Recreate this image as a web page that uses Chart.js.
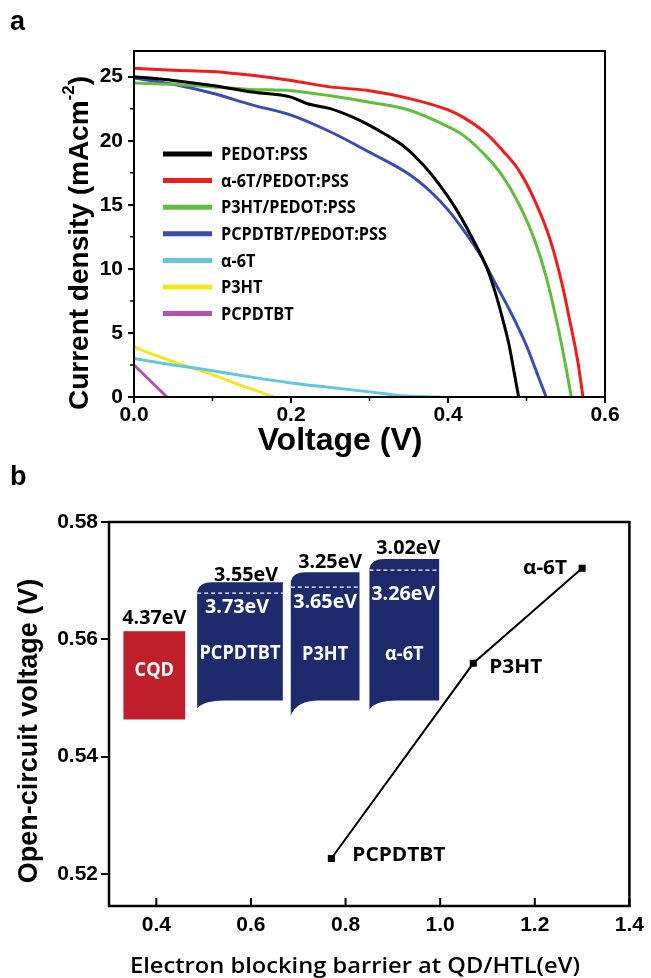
<!DOCTYPE html>
<html>
<head>
<meta charset="utf-8">
<script src="https://cdn.jsdelivr.net/npm/chart.js@4.4.1/dist/chart.umd.min.js"></script>
<style>
  html, body { margin: 0; padding: 0; background: #fff; }
  #wrap { position: relative; width: 651px; height: 978px; overflow: hidden; }
  .panel { position: absolute; left: 0; width: 651px; }
  #boxA { top: 0; height: 470px; }
  #boxB { top: 455px; height: 523px; }
</style>
</head>
<body>
<div id="wrap">
  <div class="panel" id="boxA"><canvas id="chartA"></canvas></div>
  <div class="panel" id="boxB"><canvas id="chartB"></canvas></div>
</div>
<script>
// ---------- panel a : J-V curves ----------
const seriesNames = ['PEDOT:PSS', 'α-6T/PEDOT:PSS', 'P3HT/PEDOT:PSS', 'PCPDTBT/PEDOT:PSS', 'α-6T', 'P3HT', 'PCPDTBT'];

const vPedot = [0, 0.05, 0.1, 0.15, 0.2, 0.22, 0.25, 0.28, 0.3, 0.32, 0.345, 0.37, 0.39, 0.41, 0.43, 0.45, 0.46, 0.47, 0.478, 0.484, 0.49];
const jPedot = [25.0, 24.7, 24.3, 23.8, 23.4, 22.9, 22.5, 21.8, 21.2, 20.5, 19.5, 18.0, 16.5, 14.7, 12.5, 10.0, 8.2, 6.0, 4.0, 2.0, 0];

const vA6tPedot = [0, 0.05, 0.1, 0.15, 0.2, 0.25, 0.3, 0.35, 0.4, 0.42, 0.45, 0.47, 0.49, 0.51, 0.53, 0.545, 0.555, 0.565, 0.572];
const jA6tPedot = [25.65, 25.5, 25.4, 25.1, 24.7, 24.2, 23.9, 23.3, 22.4, 21.8, 20.5, 19.2, 17.7, 15.4, 12.3, 8.9, 6.0, 2.9, 0];

const vP3htPedot = [0, 0.05, 0.1, 0.15, 0.2, 0.25, 0.3, 0.35, 0.4, 0.42, 0.45, 0.47, 0.49, 0.51, 0.525, 0.54, 0.55, 0.557];
const jP3htPedot = [24.5, 24.4, 24.2, 24.0, 23.9, 23.5, 23.0, 22.4, 21.1, 20.4, 18.7, 17.2, 15.1, 12.3, 9.4, 5.5, 2.4, 0];

const vPcpPedot = [0, 0.05, 0.1, 0.15, 0.2, 0.25, 0.3, 0.35, 0.38, 0.4, 0.42, 0.44, 0.46, 0.48, 0.5, 0.515, 0.525];
const jPcpPedot = [24.9, 24.4, 23.7, 22.8, 22.0, 20.7, 19.1, 17.4, 15.9, 14.6, 13.0, 11.2, 8.9, 6.6, 4.0, 1.6, 0];

const vA6t = [0, 0.05, 0.1, 0.15, 0.2, 0.25, 0.3, 0.34, 0.39];
const jA6t = [3.0, 2.5, 2.05, 1.55, 1.1, 0.75, 0.4, 0.1, 0];

const vP3ht = [0, 0.03, 0.06, 0.1, 0.13, 0.16, 0.178];
const jP3ht = [3.9, 3.2, 2.55, 1.75, 1.05, 0.4, 0];

const vPcp = [0, 0.042];
const jPcp = [2.5, 0];

const xTicksA = [0, 0.2, 0.4, 0.6];
const xMinorA = [0.1, 0.3, 0.5];
const yTicksA = [0, 5, 10, 15, 20, 25];
const yMinorA = [2.5, 7.5, 12.5, 17.5, 22.5];

const colorsA = ['#000000', '#f21b1b', '#62bd3e', '#3a4cb0', '#62c6dc', '#f3e61e', '#b650ac'];

// ---------- panel b : Voc vs barrier ----------
const hostNames = ['PCPDTBT', 'P3HT', 'α-6T'];
const barrier = [0.77, 1.07, 1.30];
const voc = [0.5226, 0.5559, 0.5721];
const xTicksB = [0.4, 0.6, 0.8, 1.0, 1.2, 1.4];
const yTicksB = [0.52, 0.54, 0.56, 0.58];

// energy level inset
const bandNames = ['CQD', 'PCPDTBT', 'P3HT', 'α-6T'];
const lumoText = ['4.37eV', '3.55eV', '3.25eV', '3.02eV'];
const homoText = ['', '3.73eV', '3.65eV', '3.26eV'];

// inset geometry in axis units (x: eV axis, y: V axis)
const bandGeom = [
  { x0: 0.3305, x1: 0.4611, top: 0.56137, dash: null, bR: 0.54632, bL: 0.54632, lumoY: 0.56359, homoY: null, nameY: 0.5547, lumoDx: 0, homoDx: 0 },
  { x0: 0.4863, x1: 0.6674, top: 0.56974, dash: 0.56786, bR: 0.54957, bL: 0.5482, lumoY: 0.57094, homoY: 0.56547, nameY: 0.55761, lumoDx: 6, homoDx: -3 },
  { x0: 0.6842, x1: 0.8295, top: 0.57145, dash: 0.56889, bR: 0.54957, bL: 0.54701, lumoY: 0.57316, homoY: 0.56632, nameY: 0.55744, lumoDx: 5, homoDx: 0 },
  { x0: 0.8505, x1: 0.9979, top: 0.57368, dash: 0.5718, bR: 0.54957, bL: 0.54803, lumoY: 0.57538, homoY: 0.56769, nameY: 0.55744, lumoDx: 4, homoDx: -1 }
];
const bandColors = ['#be1f2b', '#1d2a6c', '#1d2a6c', '#1d2a6c'];
// label offsets from each point, px
const pointLabelOffset = [[21, -3, 'left'], [16, 4, 'left'], [-15, 0, 'right']];

const arial = '"Liberation Sans", Arial, sans-serif';
const calibri = '"Open Sans", "Noto Sans", sans-serif';

function pts(xs, ys) {
  return xs.map((x, i) => ({ x: x, y: ys[i] }));
}
function setTicks(arr) {
  return s => { s.ticks = arr.map(v => ({ value: v })); };
}
// draw text squeezed horizontally by factor k (the originals use a narrow font)
function narrowText(ctx, text, x, y, k, align) {
  ctx.save();
  ctx.translate(x, y);
  ctx.scale(k, 1);
  ctx.textAlign = align || 'left';
  ctx.fillText(text, 0, 0);
  ctx.restore();
}

const jvData = [
  pts(vPedot, jPedot), pts(vA6tPedot, jA6tPedot), pts(vP3htPedot, jP3htPedot),
  pts(vPcpPedot, jPcpPedot), pts(vA6t, jA6t), pts(vP3ht, jP3ht), pts(vPcp, jPcp)
];

const decoA = {
  id: 'decoA',
  afterDraw(chart) {
    const { ctx, chartArea: a, scales: { x, y } } = chart;
    ctx.save();
    // frame
    ctx.strokeStyle = '#000';
    ctx.lineWidth = 2;
    ctx.strokeRect(a.left, a.top, a.right - a.left, a.bottom - a.top);
    // minor ticks
    ctx.lineWidth = 1.5;
    ctx.beginPath();
    xMinorA.forEach(v => { const px = x.getPixelForValue(v); ctx.moveTo(px, a.bottom); ctx.lineTo(px, a.bottom + 4); });
    yMinorA.forEach(v => { const py = y.getPixelForValue(v); ctx.moveTo(a.left, py); ctx.lineTo(a.left - 4, py); });
    ctx.stroke();

    // legend
    ctx.font = 'bold 18px ' + calibri;
    ctx.textBaseline = 'middle';
    const k = 166 / ctx.measureText('PCPDTBT/PEDOT:PSS').width;
    seriesNames.forEach((name, i) => {
      const ly = a.top + 103 + i * 26.6;
      ctx.strokeStyle = colorsA[i];
      ctx.lineWidth = 5;
      ctx.beginPath();
      ctx.moveTo(a.left + 29, ly);
      ctx.lineTo(a.left + 78, ly);
      ctx.stroke();
      ctx.fillStyle = '#000';
      narrowText(ctx, name, a.left + 87, ly + 1, k, 'left');
    });

    // panel tag
    ctx.font = 'bold 27px ' + arial;
    ctx.textAlign = 'left';
    ctx.textBaseline = 'alphabetic';
    ctx.fillText('a', 10, 30);

    // x title
    ctx.font = 'bold 32px ' + arial;
    ctx.textAlign = 'center';
    ctx.textBaseline = 'middle';
    ctx.fillText('Voltage (V)', 340, 441);

    // y title with superscript
    ctx.translate(80, 243);
    ctx.rotate(-Math.PI / 2);
    const main = 'Current density (mAcm';
    ctx.font = 'bold 28px ' + arial;
    const w1 = ctx.measureText(main).width;
    const w3 = ctx.measureText(')').width;
    ctx.font = 'bold 17px ' + arial;
    const w2 = ctx.measureText('-2').width;
    const sx = -(w1 + w2 + w3) / 2;
    ctx.textAlign = 'left';
    ctx.font = 'bold 28px ' + arial;
    ctx.fillText(main, sx, 0);
    ctx.font = 'bold 17px ' + arial;
    ctx.fillText('-2', sx + w1, -11);
    ctx.font = 'bold 28px ' + arial;
    ctx.fillText(')', sx + w1 + w2, 0);
    ctx.restore();
  }
};

const tickFont = { family: arial, weight: 'bold', size: 21 };

new Chart(document.getElementById('chartA'), {
  type: 'line',
  data: {
    datasets: seriesNames.map((n, i) => ({
      label: n,
      data: jvData[i],
      borderColor: colorsA[i],
      borderWidth: 3,
      pointRadius: 0,
      cubicInterpolationMode: 'monotone',
      fill: false
    }))
  },
  options: {
    responsive: true,
    maintainAspectRatio: false,
    animation: false,
    layout: { padding: { top: 51, right: 46, left: 0, bottom: 0 } },
    plugins: { legend: { display: false }, tooltip: { enabled: false } },
    scales: {
      x: {
        type: 'linear', min: 0, max: 0.6,
        afterBuildTicks: setTicks(xTicksA),
        afterFit: s => { s.height = 73; },
        grid: { drawOnChartArea: false, tickLength: 6, color: '#000', lineWidth: 2 },
        border: { display: false },
        ticks: { padding: 0, color: '#000', maxRotation: 0, autoSkip: false, callback: v => v.toFixed(1), font: tickFont }
      },
      y: {
        type: 'linear', min: 0, max: 27,
        afterBuildTicks: setTicks(yTicksA),
        afterFit: s => { s.width = 134; },
        grid: { drawOnChartArea: false, tickLength: 6, color: '#000', lineWidth: 2 },
        border: { display: false },
        ticks: { padding: 5, color: '#000', autoSkip: false, callback: v => String(v), font: tickFont }
      }
    }
  },
  plugins: [decoA]
});

// ---------- panel b ----------
function bandPath(ctx, l, r, t, bR, bL) {
  ctx.beginPath();
  ctx.moveTo(l, t + 9);
  ctx.quadraticCurveTo(l + 2, t, l + 15, t);
  ctx.lineTo(r, t);
  ctx.lineTo(r, bR);
  ctx.lineTo(l + 28, bR);
  ctx.quadraticCurveTo(l + 6, bR, l, bL);
  ctx.closePath();
}

const decoB = {
  id: 'decoB',
  beforeDatasetsDraw(chart) {
    const { ctx, scales: { x, y } } = chart;
    ctx.save();
    ctx.font = 'bold 19px ' + calibri;
    const k = 64 / ctx.measureText('3.55eV').width;
    const kName = 81 / ctx.measureText('PCPDTBT').width;
    bandGeom.forEach((g, i) => {
      const l = x.getPixelForValue(g.x0), r = x.getPixelForValue(g.x1);
      const t = y.getPixelForValue(g.top), bR = y.getPixelForValue(g.bR), bL = y.getPixelForValue(g.bL);
      const cx = (l + r) / 2;
      ctx.fillStyle = bandColors[i];
      if (i === 0) ctx.fillRect(l, t, r - l, bR - t);
      else { bandPath(ctx, l, r, t, bR, bL); ctx.fill(); }
      if (g.dash !== null) {
        const dy = y.getPixelForValue(g.dash);
        ctx.strokeStyle = '#fff';
        ctx.lineWidth = 1.3;
        ctx.setLineDash([4, 3]);
        ctx.beginPath();
        ctx.moveTo(l, dy);
        ctx.lineTo(r, dy);
        ctx.stroke();
        ctx.setLineDash([]);
      }
      ctx.textBaseline = 'middle';
      ctx.font = 'bold 19px ' + calibri;
      ctx.fillStyle = '#000';
      narrowText(ctx, lumoText[i], cx + g.lumoDx, y.getPixelForValue(g.lumoY), k, 'center');
      ctx.fillStyle = '#fff';
      if (homoText[i]) narrowText(ctx, homoText[i], cx + g.homoDx, y.getPixelForValue(g.homoY), k, 'center');
      narrowText(ctx, bandNames[i], cx, y.getPixelForValue(g.nameY), kName, 'center');
    });
    ctx.restore();
  },
  afterDraw(chart) {
    const { ctx, chartArea: a, scales: { x, y } } = chart;
    ctx.save();
    ctx.strokeStyle = '#000';
    ctx.lineWidth = 2.5;
    ctx.strokeRect(a.left, a.top, a.right - a.left, a.bottom - a.top);
    // inward ticks on the bottom axis
    ctx.lineWidth = 2;
    ctx.beginPath();
    xTicksB.forEach(v => { const px = x.getPixelForValue(v); ctx.moveTo(px, a.bottom); ctx.lineTo(px, a.bottom - 8); });
    ctx.stroke();

    // point labels
    ctx.fillStyle = '#000';
    ctx.font = 'bold 19px ' + calibri;
    ctx.textBaseline = 'middle';
    const k = 93 / ctx.measureText('PCPDTBT').width;
    hostNames.forEach((n, i) => {
      const o = pointLabelOffset[i];
      narrowText(ctx, n, x.getPixelForValue(barrier[i]) + o[0], y.getPixelForValue(voc[i]) + o[1], k, o[2]);
    });

    // panel tag
    ctx.textAlign = 'left';
    ctx.textBaseline = 'alphabetic';
    ctx.font = 'bold 27px ' + arial;
    ctx.fillText('b', 10, 30);

    // axis titles
    ctx.textBaseline = 'middle';
    ctx.font = '600 21px ' + calibri;
    const xt = 'Electron blocking barrier at QD/HTL(eV)';
    narrowText(ctx, xt, 355, 512, 450 / ctx.measureText(xt).width, 'center');
    ctx.translate(30, 276);
    ctx.rotate(-Math.PI / 2);
    ctx.textAlign = 'center';
    ctx.font = 'bold 27px ' + arial;
    ctx.fillText('Open-circuit voltage (V)', 0, 0);
    ctx.restore();
  }
};

new Chart(document.getElementById('chartB'), {
  type: 'line',
  data: {
    datasets: [{
      label: 'Voc',
      data: pts(barrier, voc),
      borderColor: '#000',
      borderWidth: 2,
      pointStyle: 'rect',
      pointRadius: 5,
      pointBackgroundColor: '#000',
      pointBorderColor: '#000',
      pointBorderWidth: 0,
      tension: 0,
      fill: false
    }]
  },
  options: {
    responsive: true,
    maintainAspectRatio: false,
    animation: false,
    layout: { padding: { top: 67, right: 18, left: 0, bottom: 0 } },
    plugins: { legend: { display: false }, tooltip: { enabled: false } },
    scales: {
      x: {
        type: 'linear', min: 0.3, max: 1.4,
        afterBuildTicks: setTicks(xTicksB),
        afterFit: s => { s.height = 72; },
        grid: { drawOnChartArea: false, drawTicks: false },
        border: { display: false },
        ticks: { padding: 7, color: '#000', maxRotation: 0, autoSkip: false, callback: v => v.toFixed(1), font: tickFont }
      },
      y: {
        type: 'linear', min: 0.5145, max: 0.58,
        afterBuildTicks: setTicks(yTicksB),
        afterFit: s => { s.width = 109; },
        grid: { drawOnChartArea: false, tickLength: 8, color: '#000', lineWidth: 2 },
        border: { display: false },
        ticks: { padding: 3, color: '#000', autoSkip: false, callback: v => v.toFixed(2), font: tickFont }
      }
    }
  },
  plugins: [decoB]
});
</script>
</body>
</html>
